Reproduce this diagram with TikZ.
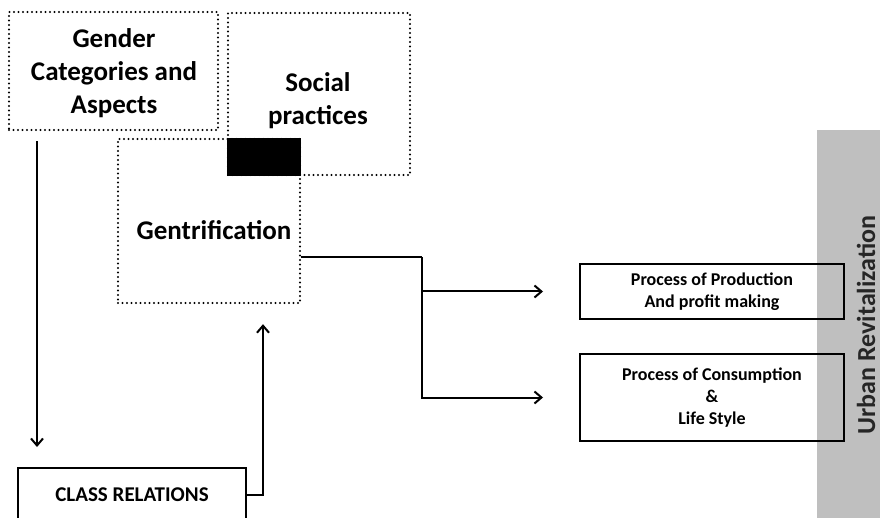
\documentclass[tikz,border=0pt]{standalone}
\usepackage{fontspec}
\setmainfont{Carlito}
\usetikzlibrary{arrows.meta}
\definecolor{bandgray}{RGB}{191,191,191}
\tikzset{
  dotbox/.style={draw, line width=2.4pt, dash pattern=on 0pt off 4.5pt, line cap=round,
    rectangle, inner sep=0pt},
  solidbox/.style={draw, line width=2pt, rectangle, inner sep=0pt, align=center,
    font=\bfseries\fontsize{18}{22}\selectfont},
  bigtext/.style={align=center, inner sep=0pt, font=\bfseries\fontsize{27}{33}\selectfont},
  conn/.style={line width=2pt},
  arr/.style={conn, -{Straight Barb[length=7pt,width=12pt,line width=2pt]}},
}
\begin{document}
\begin{tikzpicture}[x=1pt,y=-1pt]
\useasboundingbox (0,0) rectangle (880,518);
\clip (0,0) rectangle (880,518);

% side band
\fill[bandgray] (817,130) rectangle (880,530);
\node[rotate=90, anchor=base, inner sep=0pt, text=black!85,
  font=\bfseries\fontsize{26}{30}\selectfont]
  (urban) at (875,325) {Urban Revitalization};

% dotted concept boxes
\node[dotbox, minimum width=182pt, minimum height=162pt] (social) at (319,94) {};
\node[dotbox, minimum width=209pt, minimum height=118pt] (gender) at (113.5,71) {};
\node[dotbox, minimum width=182pt, minimum height=164pt] (gen) at (209,221) {};
\fill[black] (gen.north east) rectangle (social.south west);

\node[bigtext] (gendertxt) at (114,73) {Gender\\Categories and\\Aspects};
\node[bigtext] (socialtxt) at (318,101) {Social\\practices};
\node[bigtext] (gentxt) at (214,230) {Gentrification};

% solid boxes
\node[solidbox, minimum width=264pt, minimum height=55pt] (prod) at (712,291.5)
  {Process of Production\\And profit making};
\node[solidbox, minimum width=264pt, minimum height=87pt] (cons) at (712,397.5)
  {Process of Consumption\\\&\\Life Style};
\node[solidbox, minimum width=228pt, minimum height=54pt,
  font=\bfseries\fontsize{21}{24}\selectfont] (cls) at (132,495) {CLASS RELATIONS};

% connectors
\coordinate (downx) at (37,0);
\draw[arr, shorten <=10pt, shorten >=20pt] (gender.south -| downx) -- (cls.north -| downx);

\coordinate (upx) at (263,0);
\draw[arr, shorten >=20pt] (cls.east) -- (cls.east -| upx) -- (gen.south -| upx);

\coordinate (genout) at ([yshift=-36pt]gen.east);
\coordinate (split) at (422,257);
\coordinate (tipx) at (543,0);
\draw[conn] (genout) -- (split);
\draw[arr] (split) |- (cons.west -| tipx);
\draw[arr] (split |- prod.west) -- (prod.west -| tipx);
\end{tikzpicture}
\end{document}
